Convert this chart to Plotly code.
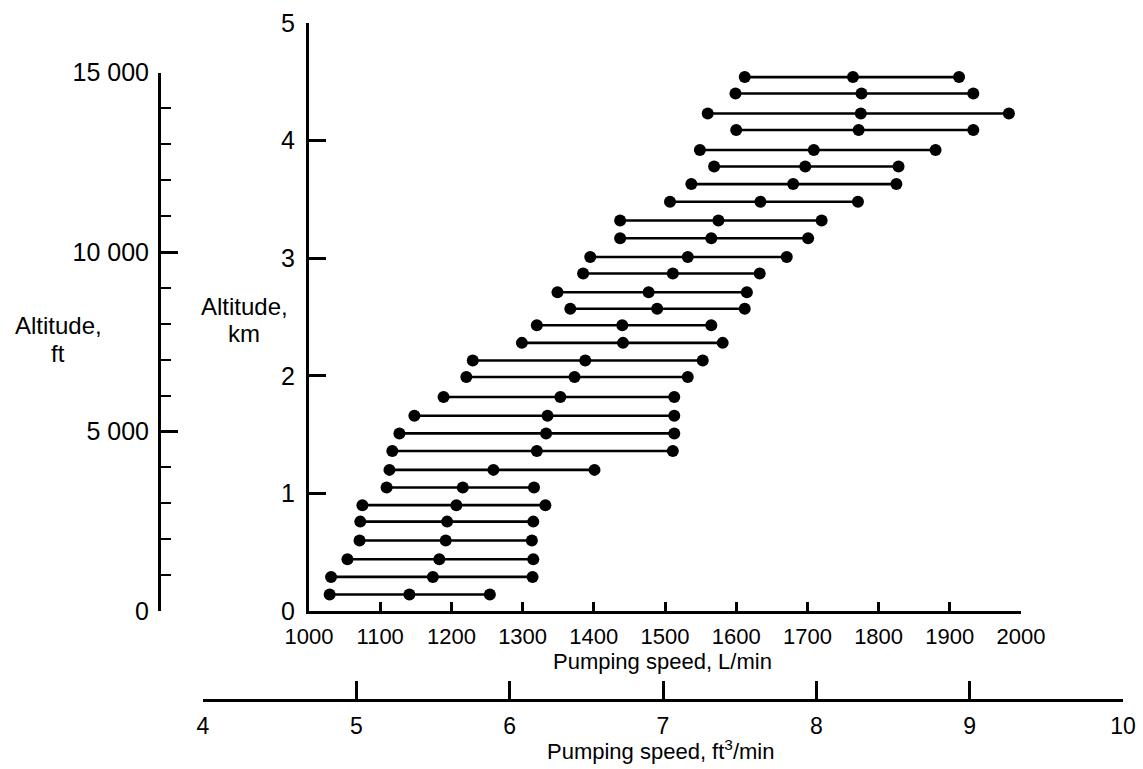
import plotly.graph_objects as go

# ---- data ----
alt_km = [0.14, 0.29, 0.44, 0.60, 0.76, 0.90, 1.05, 1.20, 1.36, 1.51,
          1.66, 1.82, 1.99, 2.13, 2.28, 2.43, 2.57, 2.71, 2.87, 3.01,
          3.17, 3.32, 3.48, 3.63, 3.78, 3.92, 4.09, 4.23, 4.40, 4.54]
speed_low = [1029, 1031, 1054, 1071, 1072, 1075, 1109, 1113, 1117, 1127,
             1148, 1189, 1221, 1230, 1299, 1320, 1367, 1349, 1385, 1395,
             1437, 1437, 1507, 1537, 1569, 1549, 1600, 1560, 1599, 1612]
speed_mid = [1141, 1174, 1183, 1192, 1194, 1207, 1216, 1259, 1320, 1333,
             1335, 1353, 1373, 1388, 1441, 1440, 1489, 1477, 1511, 1532,
             1565, 1575, 1634, 1680, 1697, 1709, 1772, 1775, 1776, 1764]
speed_high = [1254, 1314, 1315, 1313, 1315, 1332, 1316, 1401, 1511, 1513,
              1513, 1513, 1532, 1553, 1581, 1565, 1612, 1615, 1633, 1671,
              1701, 1720, 1771, 1825, 1828, 1880, 1933, 1983, 1933, 1913]

km_ticks = [0, 1, 2, 3, 4, 5]
lpm_ticks = [1000, 1100, 1200, 1300, 1400, 1500, 1600, 1700, 1800, 1900, 2000]
ft_ticks = [0, 5000, 10000, 15000]
ft_ticktext = ["0", "5 000", "10 000", "15 000"]
cfm_ticks = [4, 5, 6, 7, 8, 9, 10]

W, H = 1143, 769
FONT = "Liberation Sans, Arial, Helvetica, sans-serif"
FS = 25      # left-side tick labels
FST = 24     # axis titles on the left
FSB = 22     # bottom (condensed in the original) texts

def px_x(p):
    return p / W

def px_y(p):
    return 1 - p / H

xs, ys = [], []
for a, lo, mi, hi in zip(alt_km, speed_low, speed_mid, speed_high):
    xs += [lo, mi, hi, None]
    ys += [a, a, a, None]

fig = go.Figure()
# empty traces to register the extra axes
fig.add_trace(go.Scatter(x=[], y=[], xaxis="x", yaxis="y2", showlegend=False))
fig.add_trace(go.Scatter(x=[], y=[], xaxis="x3", yaxis="y", showlegend=False))
fig.add_trace(go.Scatter(
    x=xs, y=ys, mode="lines+markers", xaxis="x", yaxis="y",
    line=dict(color="black", width=2.6),
    marker=dict(color="black", size=12),
    showlegend=False, hoverinfo="skip"))

ybot, ytop = px_y(611), px_y(23)

common = dict(showgrid=False, zeroline=False, automargin=False,
              showline=True, linewidth=3, linecolor="black",
              tickcolor="black")

fig.update_layout(
    template="none",
    width=W, height=H,
    margin=dict(l=0, r=0, t=0, b=0, pad=0),
    paper_bgcolor="white", plot_bgcolor="rgba(0,0,0,0)",
    font=dict(family=FONT, size=FS, color="black"),
    xaxis=dict(
        domain=[px_x(309), px_x(1021)], range=[1000, 2000],
        tickvals=lpm_ticks, ticks="inside", ticklen=9, tickwidth=2.5,
        anchor="y", tickfont=dict(family=FONT, size=FSB),
        ticklabelstandoff=4, **common,
    ),
    yaxis=dict(
        domain=[ybot, ytop], range=[0, 5], tickvals=km_ticks,
        ticks="inside", ticklen=17, tickwidth=2.5, anchor="x",
        tickfont=dict(family=FONT, size=FS), ticklabelstandoff=6, **common,
    ),
    yaxis2=dict(
        domain=[ybot, px_y(72.5)], range=[0, 15000],
        tickvals=ft_ticks, ticktext=ft_ticktext,
        ticks="inside", ticklen=17, tickwidth=2.5,
        minor=dict(dtick=1000, tick0=0, ticks="inside", ticklen=10,
                   tickwidth=2, tickcolor="black", showgrid=False),
        anchor="free", position=px_x(159), side="left",
        tickfont=dict(family=FONT, size=FS), ticklabelstandoff=4, **common,
    ),
    xaxis3=dict(
        domain=[px_x(203), px_x(1123)], range=[4, 10],
        tickvals=cfm_ticks, ticks="inside", ticklen=18, tickwidth=2.5,
        anchor="free", position=px_y(700), side="bottom",
        tickfont=dict(family=FONT, size=23), ticklabelstandoff=4, **common,
    ),
)

ann = [
    ("Altitude,", 58, 325, FST),
    ("ft", 58, 353, FST),
    ("Altitude,", 244, 306, FST),
    ("km", 244, 334, FST),
    ("Pumping speed, L/min", 662, 661, FSB),
    ("Pumping speed, ft<sup>3</sup>/min", 660, 750, FSB),
]
for text, x, y, size in ann:
    fig.add_annotation(text=text, x=px_x(x), y=px_y(y), xref="paper",
                       yref="paper", xanchor="center", yanchor="middle",
                       showarrow=False, font=dict(family=FONT, size=size))

fig.write_html("out.html", config={"displayModeBar": False},
               post_script="document.body.style.margin='0';document.body.style.overflow='hidden';")
